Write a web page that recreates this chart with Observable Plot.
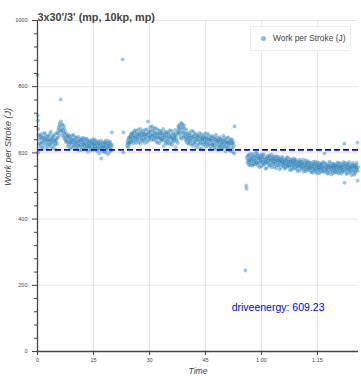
<!DOCTYPE html>
<html>
<head>
<meta charset="utf-8">
<script src="https://cdn.jsdelivr.net/npm/d3@7"></script>
<script src="https://cdn.jsdelivr.net/npm/@observablehq/plot@0.6"></script>
<style>
  html, body { margin: 0; padding: 0; background: #fff; }
  #wrap { position: relative; width: 361px; height: 380px; font-family: "Liberation Sans", Arial, Helvetica, sans-serif; }
  #legend { position: absolute; left: 250px; top: 26px; width: 101px; height: 25px; background: #fff; border: 1px solid #ececec; box-sizing: border-box; }
  #legend .dot { position: absolute; left: 10px; top: 9px; width: 5px; height: 5px; border-radius: 50%; background: #8fbbd9; }
  #legend .lab { position: absolute; left: 22px; top: 6px; font-size: 8.4px; color: #444; white-space: nowrap; }
</style>
</head>
<body>
<div id="wrap">
  <div id="chart"></div>
  <div id="legend"><div class="dot"></div><div class="lab" id="legendLabel"></div></div>
</div>
<script>
const title = "3x30'/3' (mp, 10kp, mp)";
const seriesName = "Work per Stroke (J)";
const xLabel = "Time";
const yLabel = "Work per Stroke (J)";
const driveEnergy = 609.23;
const xTicks = [0, 15, 30, 45, 60, 75];
const xTickLabels = ["0", "15", "30", "45", "1:00", "1:15"];
const yTicks = [0, 200, 400, 600, 800, 1000];
const yMinorTicks = [40, 80, 120, 160, 240, 280, 320, 360, 440, 480, 520, 560, 640, 680, 720, 760, 840, 880, 920, 960];

// interval 1: [time (min), work per stroke (J)]
const interval1 = [
[0.0,835],[0.05,713],[0.1,698],[0.15,672],[0.2,601],[0.3,655],[0.5,641],[0.7,628],[0.9,650],[1.1,633],
[1.3,619],[1.5,646],[1.7,638],[1.9,661],[2.1,624],[2.3,642],[2.5,613],[2.7,649],[2.9,635],[3.1,627],
[3.3,657],[3.5,640],[3.7,618],[3.9,644],[4.1,631],[4.3,652],[4.5,622],[4.7,637],[4.9,609],[5.1,645],
[5.3,628],[5.5,659],[5.7,677],[5.9,689],[6.1,667],[6.2,761],[6.3,695],[6.5,672],[6.7,654],[6.9,683],
[7.1,660],[7.3,641],[7.5,665],[7.7,632],[7.9,648],[8.1,620],[8.3,654],[8.5,637],[8.7,611],[8.9,643],
[9.1,629],[9.3,652],[9.5,618],[9.7,639],[9.9,626],[10.1,647],[10.3,614],[10.5,633],[10.7,621],[10.9,649],
[11.1,630],[11.3,607],[11.5,638],[11.7,624],[11.9,645],[12.1,616],[12.3,634],[12.5,627],[12.7,611],[12.9,641],
[13.1,622],[13.3,636],[13.5,604],[13.7,629],[13.9,618],[14.1,638],[14.3,612],[14.5,627],[14.7,633],[14.9,609],
[15.1,624],[15.3,640],[15.5,615],[15.7,630],[15.9,606],[16.1,621],[16.3,635],[16.5,598],[16.7,617],[16.9,628],
[17.1,583],[17.3,612],[17.5,631],[17.7,619],[17.9,603],[18.1,625],[18.3,637],[18.5,610],[18.7,622],[18.9,596],
[19.1,628],[19.3,614],[19.5,633],[19.7,608],[19.9,662],[20.0,624]
];
const interval1b = [
[0.4,626],[0.6,652],[0.8,617],[1.0,644],[1.2,658],[1.4,630],[1.6,612],[1.8,647],[2.0,636],[2.2,655],
[2.4,629],[2.6,641],[2.8,620],[3.0,651],[3.2,638],[3.4,625],[3.6,664],[3.8,633],[4.0,648],[4.2,614],
[4.4,639],[4.6,656],[4.8,627],[5.0,636],[5.2,661],[5.4,645],[5.6,670],[5.8,652],[6.0,681],[6.4,664],
[6.6,686],[6.8,669],[7.0,647],[7.2,675],[7.4,653],[7.6,639],[7.8,657],[8.0,634],[8.2,646],[8.4,625],
[8.6,650],[8.8,631],[9.0,617],[9.2,640],[9.4,633],[9.6,655],[9.8,621],[10.0,637],[10.2,628],[10.4,645],
[10.6,612],[10.8,636],[11.0,623],[11.2,642],[11.4,619],[11.6,633],[11.8,610],[12.0,639],[12.2,626],[12.4,645],
[12.6,620],[12.8,631],[13.0,614],[13.2,643],[13.4,625],[13.6,617],[13.8,635],[14.0,622],[14.2,607],[14.4,631],
[14.6,619],[14.8,641],[15.0,613],[15.2,628],[15.4,620],[15.6,636],[15.8,611],[16.0,626],[16.2,614],[16.4,630],
[16.6,608],[16.8,623],[17.0,637],[17.2,618],[17.4,605],[17.6,626],[17.8,614],[18.0,632],[18.2,617],[18.4,601],
[18.6,629],[18.8,615],[19.0,636],[19.2,620],[19.4,604],[19.6,625],[19.8,616]
];
// interval 2
const interval2 = [
[22.8,882],[23.0,601],[23.05,662],[24.0,622],[24.2,638],[24.4,629],[24.6,647],[24.8,634],[25.0,655],[25.2,641],
[25.4,660],[25.6,637],[25.8,652],[26.0,668],[26.2,645],[26.4,631],[26.6,657],[26.8,649],[27.0,671],[27.2,640],
[27.4,655],[27.6,628],[27.8,662],[28.0,647],[28.2,636],[28.4,658],[28.6,651],[28.8,669],[29.0,642],[29.2,657],
[29.4,633],[29.6,695],[29.8,664],[30.0,648],[30.2,677],[30.4,655],[30.6,639],[30.8,668],[31.0,652],[31.2,674],
[31.4,644],[31.6,661],[31.8,636],[32.0,656],[32.2,670],[32.4,647],[32.6,629],[32.8,659],[33.0,643],[33.2,665],
[33.4,638],[33.6,654],[33.8,621],[34.0,648],[34.2,662],[34.4,635],[34.6,651],[34.8,627],[35.0,657],[35.2,641],
[35.4,668],[35.6,633],[35.8,649],[36.0,624],[36.2,645],[36.4,659],[36.6,637],[36.8,652],[37.0,618],[37.2,641],
[37.4,663],[37.6,630],[37.8,672],[38.0,684],[38.2,656],[38.4,677],[38.6,643],[38.8,687],[39.0,661],[39.2,648],
[39.4,673],[39.6,639],[39.8,657],[40.0,632],[40.2,650],[40.4,627],[40.6,644],[40.8,661],[41.0,636],[41.2,653],
[41.4,622],[41.6,647],[41.8,664],[42.0,631],[42.2,642],[42.4,617],[42.6,656],[42.8,638],[43.0,649],[43.2,626],
[43.4,660],[43.6,634],[43.8,645],[44.0,613],[44.2,639],[44.4,652],[44.6,628],[44.8,643],[45.0,619],[45.2,648],
[45.4,633],[45.6,658],[45.8,625],[46.0,640],[46.2,611],[46.4,637],[46.6,651],[46.8,624],[47.0,645],[47.2,630],
[47.4,616],[47.6,642],[47.8,655],[48.0,627],[48.2,636],[48.4,608],[48.6,633],[48.8,647],[49.0,621],[49.2,639],
[49.4,614],[49.6,631],[49.8,652],[50.0,619],[50.2,637],[50.4,605],[50.6,628],[50.8,644],[51.0,616],[51.2,633],
[51.4,609],[51.6,626],[51.8,641],[52.0,612],[52.2,630],[52.4,603],[52.6,622],[52.7,598],[52.8,680]
];
const interval2b = [
[24.1,631],[24.3,617],[24.5,644],[24.7,626],[24.9,649],[25.1,633],[25.3,658],[25.5,646],[25.7,629],[25.9,661],
[26.1,650],[26.3,638],[26.5,666],[26.7,643],[26.9,655],[27.1,632],[27.3,660],[27.5,648],[27.7,672],[27.9,639],
[28.1,654],[28.3,665],[28.5,641],[28.7,630],[28.9,657],[29.1,648],[29.3,671],[29.5,653],[29.7,638],[29.9,660],
[30.1,645],[30.3,666],[30.5,649],[30.7,681],[30.9,656],[31.1,640],[31.3,663],[31.5,651],[31.7,675],[31.9,647],
[32.1,631],[32.3,658],[32.5,644],[32.7,667],[32.9,652],[33.1,637],[33.3,659],[33.5,646],[33.7,672],[33.9,640],
[34.1,655],[34.3,629],[34.5,663],[34.7,645],[34.9,636],[35.1,660],[35.3,648],[35.5,627],[35.7,654],[35.9,667],
[36.1,642],[36.3,633],[36.5,656],[36.7,645],[36.9,669],[37.1,650],[37.3,636],[37.5,658],[37.7,680],[37.9,661],
[38.1,669],[38.3,646],[38.5,690],[38.7,665],[38.9,676],[39.1,652],[39.3,683],[39.5,660],[39.7,647],[39.9,669],
[40.1,641],[40.3,658],[40.5,636],[40.7,652],[40.9,629],[41.1,645],[41.3,667],[41.5,638],[41.7,626],[41.9,650],
[42.1,657],[42.3,633],[42.5,645],[42.7,624],[42.9,652],[43.1,639],[43.3,615],[43.5,648],[43.7,629],[43.9,656],
[44.1,641],[44.3,625],[44.5,647],[44.7,636],[44.9,659],[45.1,631],[45.3,643],[45.5,621],[45.7,640],[45.9,652],
[46.1,628],[46.3,645],[46.5,618],[46.7,637],[46.9,626],[47.1,649],[47.3,622],[47.5,639],[47.7,612],[47.9,634],
[48.1,646],[48.3,621],[48.5,640],[48.7,617],[48.9,630],[49.1,642],[49.3,625],[49.5,611],[49.7,637],[49.9,627],
[50.1,645],[50.3,620],[50.5,634],[50.7,613],[50.9,631],[51.1,647],[51.3,622],[51.5,636],[51.7,606],[51.9,629],
[52.1,640],[52.3,617],[52.5,633]
];
// interval 3
const interval3 = [
[55.7,245],[55.9,501],[56.0,492],[56.1,584],[56.3,571],[56.5,593],[56.7,578],[56.9,562],[57.1,587],[57.3,574],
[57.5,598],[57.7,581],[57.9,566],[58.1,589],[58.3,576],[58.5,601],[58.7,583],[58.9,569],[59.1,592],[59.3,579],
[59.5,557],[59.7,586],[59.9,573],[60.1,595],[60.3,580],[60.5,564],[60.7,588],[60.9,575],[61.1,552],[61.3,583],
[61.5,570],[61.7,591],[61.9,577],[62.1,561],[62.3,585],[62.5,572],[62.7,594],[62.9,579],[63.1,566],[63.3,582],
[63.5,558],[63.7,576],[63.9,589],[64.1,571],[64.3,563],[64.5,584],[64.7,574],[64.9,550],[65.1,579],[65.3,567],
[65.5,588],[65.7,573],[65.9,560],[66.1,581],[66.3,569],[66.5,555],[66.7,577],[66.9,564],[67.1,586],[67.3,572],
[67.5,558],[67.7,579],[67.9,566],[68.1,549],[68.3,575],[68.5,562],[68.7,583],[68.9,569],[69.1,556],[69.3,574],
[69.5,561],[69.7,545],[69.9,570],[70.1,558],[70.3,579],[70.5,565],[70.7,552],[70.9,572],[71.1,559],[71.3,543],
[71.5,568],[71.7,556],[71.9,576],[72.1,563],[72.3,549],[72.5,567],[72.7,555],[72.9,571],[73.1,558],[73.3,541],
[73.5,564],[73.7,552],[73.9,573],[74.1,560],[74.3,547],[74.5,566],[74.7,554],[74.9,538],[75.1,562],[75.3,550],
[75.5,569],[75.7,557],[75.9,544],[76.1,563],[76.3,551],[76.5,572],[76.7,559],[76.9,598],[77.1,546],[77.3,565],
[77.5,553],[77.7,540],[77.9,561],[78.1,549],[78.3,568],[78.5,556],[78.7,535],[78.9,559],[79.1,547],[79.3,566],
[79.5,554],[79.7,542],[79.9,562],[80.1,550],[80.3,571],[80.5,557],[80.7,538],[80.9,560],[81.1,548],[81.3,567],
[81.5,555],[81.7,543],[81.9,563],[82.1,551],[82.2,628],[82.25,510],[82.4,569],[82.6,556],[82.8,536],[83.0,561],
[83.2,549],[83.4,566],[83.6,553],[83.8,541],[84.0,560],[84.2,547],[84.4,564],[84.6,552],[84.8,534],[85.0,558],
[85.2,546],[85.4,563],[85.6,551],[85.7,631],[85.75,516],[85.9,557]
];
const interval3b = [
[56.2,590],[56.4,576],[56.6,565],[56.8,596],[57.0,580],[57.2,569],[57.4,585],[57.6,561],[57.8,593],[58.0,577],
[58.2,566],[58.4,588],[58.6,572],[58.8,597],[59.0,563],[59.2,584],[59.4,570],[59.6,591],[59.8,578],[60.0,560],
[60.2,586],[60.4,571],[60.6,596],[60.8,566],[61.0,581],[61.2,573],[61.4,555],[61.6,587],[61.8,568],[62.0,580],
[62.2,592],[62.4,563],[62.6,578],[62.8,556],[63.0,585],[63.2,571],[63.4,590],[63.6,567],[63.8,580],[64.0,554],
[64.2,577],[64.4,589],[64.6,562],[64.8,581],[65.0,570],[65.2,557],[65.4,575],[65.6,584],[65.8,563],[66.0,571],
[66.2,552],[66.4,578],[66.6,566],[66.8,585],[67.0,559],[67.2,574],[67.4,563],[67.6,548],[67.8,572],[68.0,581],
[68.2,558],[68.4,569],[68.6,553],[68.8,576],[69.0,564],[69.2,580],[69.4,551],[69.6,567],[69.8,559],[70.0,575],
[70.2,546],[70.4,563],[70.6,572],[70.8,555],[71.0,566],[71.2,580],[71.4,551],[71.6,562],[71.8,545],[72.0,570],
[72.2,557],[72.4,575],[72.6,548],[72.8,561],[73.0,553],[73.2,569],[73.4,546],[73.6,558],[73.8,540],[74.0,565],
[74.2,551],[74.4,574],[74.6,543],[74.8,560],[75.0,571],[75.2,549],[75.4,556],[75.6,539],[75.8,564],[76.0,553],
[76.2,568],[76.4,545],[76.6,557],[76.8,541],[77.0,570],[77.2,555],[77.4,548],[77.6,563],[77.8,537],[78.0,557],
[78.2,574],[78.4,544],[78.6,560],[78.8,551],[79.0,568],[79.2,539],[79.4,556],[79.6,563],[79.8,546],[80.0,558],
[80.2,541],[80.4,565],[80.6,552],[80.8,570],[81.0,545],[81.2,557],[81.4,537],[81.6,561],[81.8,549],[82.0,572],
[82.3,544],[82.5,560],[82.7,548],[82.9,566],[83.1,539],[83.3,555],[83.5,572],[83.7,546],[83.9,558],[84.1,533],
[84.3,556],[84.5,569],[84.7,544],[84.9,561],[85.1,539],[85.3,555],[85.5,570],[85.8,545]
];

const points = [...interval1, ...interval1b, ...interval2, ...interval2b, ...interval3, ...interval3b]
  .map(([t, v]) => ({t, v}));

document.getElementById("legendLabel").textContent = seriesName;

const font = "'Liberation Sans', Arial, Helvetica, sans-serif";
const chart = Plot.plot({
  width: 361,
  height: 380,
  marginLeft: 37,
  marginRight: 3,
  marginTop: 20,
  marginBottom: 29,
  style: { fontFamily: font, fontSize: "5.5px", color: "#444", background: "#fff", overflow: "visible" },
  x: { domain: [0, 86] },
  y: { domain: [0, 1000] },
  marks: [
    Plot.gridX(xTicks, { stroke: "#e8e8e8", strokeOpacity: 1 }),
    Plot.gridY(yTicks, { stroke: "#e8e8e8", strokeOpacity: 1 }),
    Plot.dot(points, { x: "t", y: "v", r: 1.8, fill: "#1f77b4", fillOpacity: 0.4, stroke: "#1f77b4", strokeOpacity: 0.25, strokeWidth: 0.5 }),
    Plot.ruleY([driveEnergy], { stroke: "#0000ff", strokeWidth: 1.6, strokeDasharray: "6,3" }),
    Plot.ruleX([0], { stroke: "#444", strokeWidth: 1.3 }),
    Plot.ruleY([0], { stroke: "#444", strokeWidth: 1.3 }),
    Plot.axisY(yTicks, { tickSize: 5, tickPadding: 5, label: null, tickFormat: (d) => String(d), stroke: "#444", fill: "#444" }),
    Plot.axisY(yMinorTicks, { tickSize: 3, tickFormat: () => "", label: null, stroke: "#444" }),
    Plot.axisX(xTicks, { tickSize: 4, tickPadding: 3, label: null, tickFormat: (d, i) => xTickLabels[i], stroke: "#444", fill: "#444" }),
    Plot.text([yLabel], { frameAnchor: "left", dx: -29, rotate: -90, fontStyle: "italic", fontSize: 9, fill: "#444" }),
    Plot.text([xLabel], { frameAnchor: "bottom", dy: 22, fontStyle: "italic", fontSize: 8.5, fill: "#444" }),
    Plot.text([title], { frameAnchor: "top-left", dy: -7, textAnchor: "start", fontWeight: "bold", fontSize: 10.8, fill: "#444" }),
    Plot.text([`driveenergy: ${driveEnergy}`], { frameAnchor: "bottom-right", dx: -34, dy: -41, textAnchor: "end", fill: "#0000ff", fontSize: 10.5 })
  ]
});
document.getElementById("chart").appendChild(chart);
</script>
</body>
</html>
